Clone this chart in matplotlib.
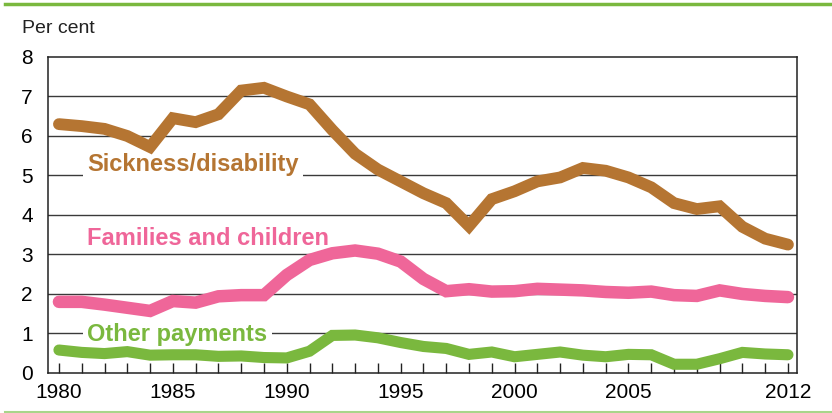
import numpy as np
import matplotlib.pyplot as plt
from matplotlib.lines import Line2D

plt.rcParams['font.family'] = ['Liberation Sans', 'DejaVu Sans']

years = list(range(1980, 2013))
sickness = [6.30, 6.25, 6.18, 6.00, 5.72, 6.45, 6.35, 6.55, 7.15, 7.22, 7.00, 6.80, 6.15,
            5.55, 5.15, 4.85, 4.55, 4.30, 3.72, 4.40, 4.60, 4.85, 4.95, 5.19, 5.12, 4.95,
            4.70, 4.30, 4.15, 4.22, 3.70, 3.40, 3.25]
families = [1.80, 1.80, 1.73, 1.65, 1.57, 1.82, 1.78, 1.94, 1.97, 1.97, 2.48, 2.86, 3.03,
            3.10, 3.02, 2.82, 2.38, 2.07, 2.12, 2.06, 2.07, 2.13, 2.11, 2.09, 2.05, 2.03,
            2.06, 1.97, 1.95, 2.09, 2.00, 1.95, 1.92]
other = [0.58, 0.52, 0.49, 0.54, 0.45, 0.46, 0.46, 0.42, 0.43, 0.39, 0.38, 0.55, 0.95,
         0.96, 0.89, 0.77, 0.67, 0.62, 0.47, 0.53, 0.41, 0.47, 0.53, 0.45, 0.41, 0.47,
         0.46, 0.22, 0.22, 0.36, 0.52, 0.48, 0.46]
xlabels = {1980: '1980', 1985: '1985', 1990: '1990', 1995: '1995', 2000: '2000', 2005: '2005', 2012: '2012'}

brown = '#b57532'
pink = '#ef6699'
green = '#7ab83e'

fig = plt.figure(figsize=(8.32, 4.13), dpi=100)
ax = fig.add_axes([0.0577, 0.097, 0.9003, 0.765])

for v in range(1, 8):
    ax.axhline(v, color='#3a3a3a', lw=1.0, zorder=1)

ax.plot(years, sickness, color=brown, lw=8.5, solid_capstyle='round', solid_joinstyle='miter', zorder=3)
ax.plot(years, families, color=pink, lw=9, solid_capstyle='round', solid_joinstyle='miter', zorder=3)
ax.plot(years, other, color=green, lw=8, solid_capstyle='round', solid_joinstyle='miter', zorder=3)

box = dict(facecolor='white', edgecolor='none', pad=3)
ax.text(1981.25, 5.27, 'Sickness/disability', color=brown, fontsize=17, fontweight='bold',
        va='center', ha='left', bbox=box, zorder=2)
ax.text(1981.25, 3.40, 'Families and children', color=pink, fontsize=17, fontweight='bold',
        va='center', ha='left', zorder=2)
ax.text(1981.25, 0.98, 'Other payments', color=green, fontsize=17, fontweight='bold',
        va='center', ha='left', bbox=box, zorder=2)

ax.set_xlim(1979.52, 2012.4)
ax.set_ylim(0, 8)
ax.set_yticks(range(0, 9))
ax.set_xticks(years)
ax.set_xticklabels([xlabels.get(y, '') for y in years])
ax.tick_params(axis='x', direction='in', length=7, width=1, color='#222', labelsize=15, pad=7)
ax.tick_params(axis='y', length=0, labelsize=15, pad=11)
for s in ax.spines.values():
    s.set_color('#222')
    s.set_linewidth(1.1)

fig.text(0.026, 0.93, 'Per cent', fontsize=14, ha='left', va='center', color='#222')

fig.add_artist(Line2D([0.006, 1.0], [0.991, 0.991], color=green, lw=2.5, transform=fig.transFigure))
fig.add_artist(Line2D([0.006, 1.0], [0.003, 0.003], color='#a8d58a', lw=1.5, transform=fig.transFigure))

fig.savefig('out.png', dpi=100)
